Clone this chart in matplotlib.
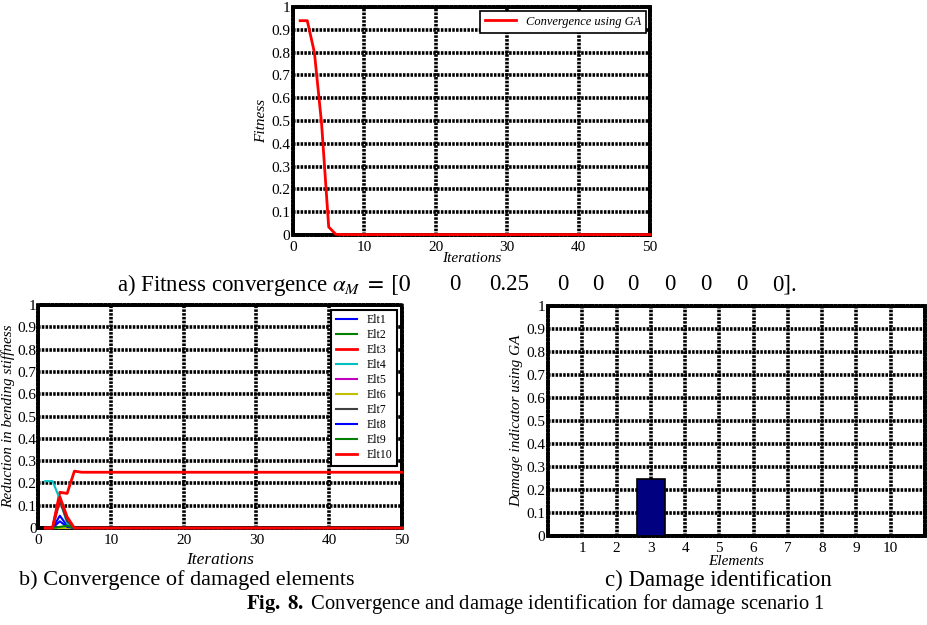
import matplotlib.pyplot as plt
import numpy as np

plt.rcParams['font.family'] = ['Liberation Serif', 'DejaVu Serif']
plt.rcParams['mathtext.fontset'] = 'stix'

iters = np.arange(1, 51)
fitness = [0.94, 0.94, 0.80, 0.49, 0.035, 0.003] + [0.002] * 44

elt_names = ['Elt1', 'Elt2', 'Elt3', 'Elt4', 'Elt5', 'Elt6', 'Elt7', 'Elt8', 'Elt9', 'Elt10']
elt_colors = ['#0000ff', '#008000', '#ff0000', '#00c0c0', '#c000c0', '#c0c000', '#404040', '#0000ff', '#008000', '#ff0000']
elt_start = [
    [0, 0, 0.055, 0.01, 0],
    [0, 0, 0.0, 0.008, 0],
    [0, 0, 0.16, 0.155, 0.255, 0.25],
    [0.21, 0.21, 0.13, 0.02, 0],
    [0, 0, 0, 0, 0],
    [0, 0, 0, 0, 0],
    [0, 0, 0.12, 0.03, 0],
    [0, 0, 0.03, 0.005, 0],
    [0, 0, 0.005, 0.01, 0],
    [0, 0, 0.14, 0.05, 0],
]
elt_final = [0, 0, 0.25, 0, 0, 0, 0, 0, 0, 0]

elements = np.arange(1, 11)
damage = [0, 0, 0.25, 0, 0, 0, 0, 0, 0, 0]
alpha_labels = ['0', '0', '0.25', '0', '0', '0', '0', '0', '0', '0']

W, H = 927, 625
fig = plt.figure(figsize=(9.27, 6.25), dpi=100)
serif = 'Liberation Serif'


def box(l, t, r, b):
    return [l / W, 1 - b / H, (r - l) / W, (b - t) / H]


def style(ax):
    ax.grid(True, color='black', linewidth=2.6, linestyle=(0, (0.7, 0.35)))
    ax.set_axisbelow(True)
    for s in ax.spines.values():
        s.set_linewidth(2.6)
        s.set_linestyle((0, (0.7, 0.35)))
    ax.tick_params(labelsize=11, length=0)
    ax.tick_params(axis='y', pad=2)
    ax.tick_params(axis='x', pad=4)
    ax.set_ylim(0, 1)
    ax.set_yticks(np.arange(0, 1.01, 0.1))
    ax.set_yticklabels(['0', '0.1', '0.2', '0.3', '0.4', '0.5', '0.6', '0.7', '0.8', '0.9', '1'])


# a) fitness
ax1 = fig.add_axes(box(293, 7, 650, 235))
ax1.plot(iters, fitness, color='red', lw=2, label='Convergence using GA', zorder=5, clip_on=False)
ax1.set_xlim(0, 50)
style(ax1)
ax1.set_xlabel('Iterations', style='italic', fontsize=11, labelpad=-1)
ax1.set_ylabel('Fitness', style='italic', fontsize=11, labelpad=2)
leg = ax1.legend(loc='upper right', prop={'style': 'italic', 'size': 9}, fancybox=False,
                 edgecolor='black', framealpha=1, borderaxespad=0.3, handlelength=2.5)
leg.get_frame().set_linewidth(1.2)

# b) convergence of elements
ax2 = fig.add_axes(box(38, 305, 402, 528))
for name, c, st, fin in zip(elt_names, elt_colors, elt_start, elt_final):
    vals = st + [fin] * (50 - len(st))
    ax2.plot(iters, vals, color=c, lw=2 if c == '#ff0000' else 1.5, label=name, zorder=5, clip_on=False)
ax2.set_xlim(0, 50)
style(ax2)
ax2.tick_params(axis='y', pad=1)
ax2.set_xlabel('Iterations', style='italic', fontsize=12.5, labelpad=4)
ax2.set_ylabel('Reduction in bending stiffness', style='italic', fontsize=11)
ax2.yaxis.set_label_coords(-0.062, 0.5)
leg2 = ax2.legend(loc='upper right', fontsize=8.5, fancybox=False, edgecolor='black', framealpha=1,
                  borderaxespad=0.4, handlelength=1.8, labelspacing=0.25)
leg2.get_frame().set_linewidth(1.5)

# c) damage identification
ax3 = fig.add_axes(box(548, 306, 925, 536))
ax3.bar(elements, damage, width=0.8, color='#000080', edgecolor='black', lw=1.2, zorder=3)
ax3.set_xlim(0, 11)
style(ax3)
ax3.set_xticks(elements)
ax3.set_xlabel('Elements', style='italic', fontsize=11, labelpad=0)
ax3.set_ylabel('Damage indicator using GA', style='italic', fontsize=11, labelpad=2)

# captions
fig.text(411 / W, 1 - 285 / H, r'a) Fitness convergence $\alpha_M\;=\;[0$',
         ha='right', va='center', fontsize=16.5, family=serif)
num_x = [455, 509, 563, 598, 633, 670, 706, 742]
for lab, x in zip(alpha_labels[1:-1], num_x):
    fig.text(x / W, 1 - 285 / H, lab, ha='center', va='center', fontsize=16.5, family=serif)
fig.text(772 / W, 1 - 285 / H, alpha_labels[-1] + '].', ha='left', va='center', fontsize=16.5, family=serif)

fig.text(187 / W, 1 - 580 / H, 'b) Convergence of damaged elements', ha='center', va='center',
         fontsize=16, family=serif)
fig.text(718 / W, 1 - 580 / H, 'c) Damage identification', ha='center', va='center',
         fontsize=16.5, family=serif)
fig.text(535 / W, 1 - 604 / H, r'$\mathbf{Fig.\ 8.}$ Convergence and damage identification for damage scenario 1',
         ha='center', va='center', fontsize=14.8, family=serif)

fig.savefig('out.png', dpi=100)
